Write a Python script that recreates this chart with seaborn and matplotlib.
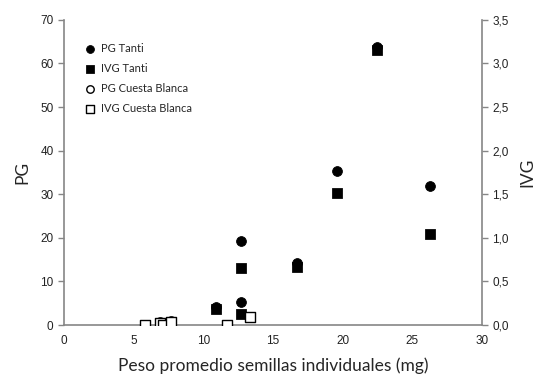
import numpy as np
import pandas as pd
import matplotlib
matplotlib.use("Agg")
import matplotlib.pyplot as plt
import seaborn as sns
from matplotlib.ticker import FuncFormatter

# Tanti
tanti_peso = [10.9, 12.7, 12.7, 16.75, 19.6, 22.5, 26.3]
tanti_pg = [4.2, 19.3, 5.4, 14.3, 35.3, 63.7, 31.8]
tanti_ivg_peso = [10.9, 12.7, 12.7, 16.75, 19.6, 22.5, 26.3]
tanti_ivg = [0.18, 0.65, 0.13, 0.67, 1.51, 3.15, 1.04]

# Cuesta Blanca
cb_peso = [5.8, 6.9, 7.1, 7.7, 11.7, 13.35]
cb_pg = [0.0, 0.6, 0.0, 0.9, 0.0, 1.8]
cb_ivg = [0.0, 0.02, 0.0, 0.04, 0.0, 0.09]

sns.set_style("white")
plt.rcParams['font.family'] = ['Liberation Sans', 'DejaVu Sans']

fig = plt.figure(figsize=(5.42, 3.82), dpi=100)
ax = fig.add_axes([0.118, 0.149, 0.771, 0.799])
ax2 = ax.twinx()

grey = "#868686"

sns.scatterplot(x=tanti_peso, y=tanti_pg, ax=ax, marker="o", s=50, color="black",
                edgecolor="black", label="PG Tanti", zorder=3)
sns.scatterplot(x=cb_peso, y=cb_pg, ax=ax, marker="o", s=45, facecolor="white",
                edgecolor="black", linewidth=1, label="PG Cuesta Blanca", zorder=2)
sns.scatterplot(x=tanti_ivg_peso, y=tanti_ivg, ax=ax2, marker="s", s=48, color="black",
                edgecolor="black", label="IVG Tanti", zorder=3)
sns.scatterplot(x=cb_peso, y=cb_ivg, ax=ax2, marker="s", s=45, facecolor="white",
                edgecolor="black", linewidth=1, label="IVG Cuesta Blanca", zorder=3)

ax.set_xlim(0, 30)
ax.set_ylim(0, 70)
ax2.set_ylim(0, 3.5)
ax.set_xticks(range(0, 31, 5))
ax.set_yticks(range(0, 71, 10))
ax2.set_yticks(np.arange(0, 3.51, 0.5))
ax2.yaxis.set_major_formatter(FuncFormatter(lambda v, p: f"{v:.1f}".replace(".", ",")))

for a in (ax, ax2):
    for s in a.spines.values():
        s.set_color(grey)
        s.set_linewidth(1.2)
    a.spines['top'].set_visible(False)
    a.tick_params(colors=grey, labelcolor="#222222", labelsize=8.5, length=4, width=1,
                  direction="out")
ax.spines['right'].set_visible(False)
ax2.spines['left'].set_visible(False)
ax2.spines['bottom'].set_visible(False)

lab_font = ['Lato', 'DejaVu Sans']
ax.set_xlabel("Peso promedio semillas individuales (mg)", fontsize=12.5, family=lab_font, labelpad=7)
ax.set_ylabel("PG", fontsize=12.5, family=lab_font, labelpad=7)
ax2.set_ylabel("IVG", fontsize=12.5, family=lab_font, labelpad=8)

h1, l1 = ax.get_legend_handles_labels()
h2, l2 = ax2.get_legend_handles_labels()
ax.get_legend().remove()
ax2.get_legend().remove()
handles = [h1[0], h2[0], h1[1], h2[1]]
labels = [l1[0], l2[0], l1[1], l2[1]]
ax2.legend(handles, labels, loc="upper left", bbox_to_anchor=(0.02, 0.945), frameon=False,
           prop={'family': lab_font, 'size': 8}, handletextpad=0.0, labelspacing=0.8,
           borderaxespad=0.2, markerscale=0.8)

fig.savefig("out.png", dpi=100)
